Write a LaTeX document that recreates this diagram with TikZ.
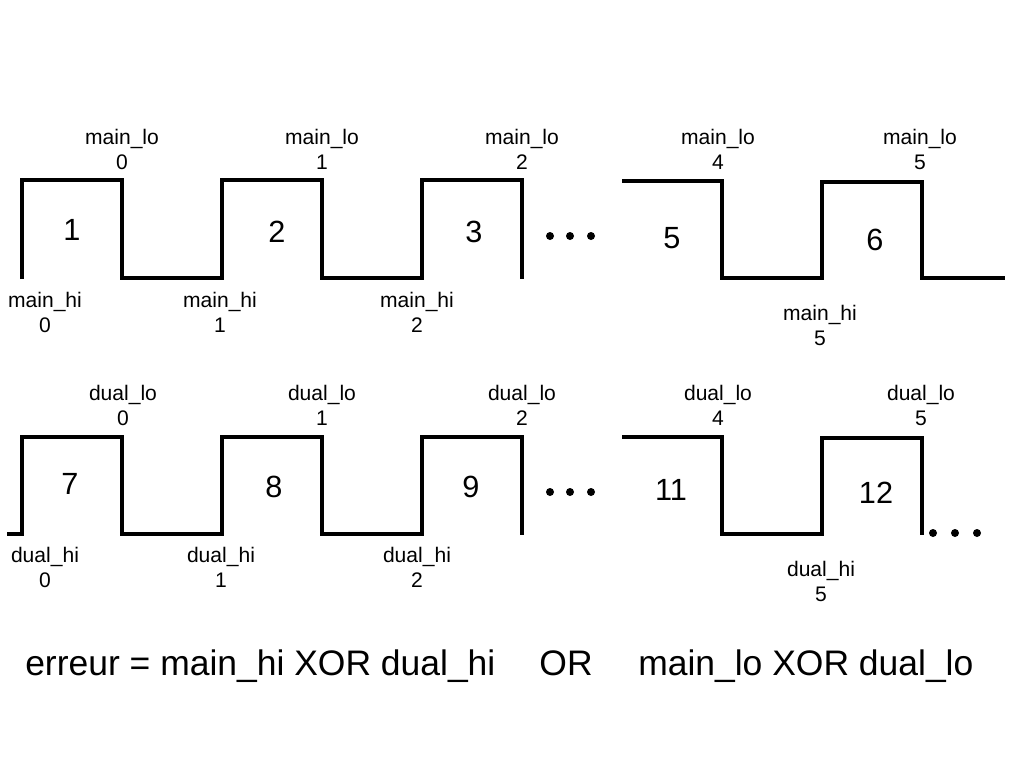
\documentclass[tikz,border=0pt]{standalone}
\usepackage{fontspec}
\setmainfont{Liberation Sans}
\usetikzlibrary{positioning}

\begin{document}
\begin{tikzpicture}[
    x=0.75pt, y=-0.75pt,
    wave/.style={line width=2.3pt, line join=miter},
    siglabel/.style={align=center, inner sep=0pt, font=\fontsize{15.8}{18.75}\selectfont},
    slotnum/.style={inner sep=0pt, font=\fontsize{23}{27}\selectfont},
    eqtext/.style={anchor=base west, inner sep=0pt, font=\fontsize{26.6}{30}\selectfont},
    dot/.style={fill=black}
]
\useasboundingbox (0,0) rectangle (1024,768);

% Main signal
\draw[wave] (22,279) -- (22,180) -- (122,180) -- (122,278) -- (222,278) -- (222,180)
    -- (322,180) -- (322,278) -- (422,278) -- (422,180) -- (522,180) -- (522,279);
\draw[wave] (622,181) -- (722,181) -- (722,278) -- (822,278) -- (822,182) -- (922,182)
    -- (922,278) -- (1005,278);

% Dual signal
\draw[wave] (7,534) -- (22,534) -- (22,437) -- (122,437) -- (122,534) -- (222,534) -- (222,437)
    -- (322,437) -- (322,534) -- (422,534) -- (422,437) -- (522,437) -- (522,535);
\draw[wave] (622,437) -- (722,437) -- (722,534) -- (822,534) -- (822,438) -- (922,438)
    -- (922,535);

% Ellipsis dots
\foreach \x in {550,570,591} {
    \fill[dot] (\x,236) circle (3pt);
    \fill[dot] (\x,492) circle (3pt);
}
\foreach \x in {933,955,977}
    \fill[dot] (\x,533) circle (3pt);

% Slot numbers, main
\node[slotnum] (n1) at (72,230) {1};
\node[slotnum] (n2) at (277,232) {2};
\node[slotnum] (n3) at (474,232) {3};
\node[slotnum] (n5) at (672,238) {5};
\node[slotnum] (n6) at (875,240) {6};

% Slot numbers, dual
\node[slotnum] (n7) at (70,484) {7};
\node[slotnum] (n8) at (274,487) {8};
\node[slotnum] (n9) at (471,487) {9};
\node[slotnum] (n11) at (671,490) {11};
\node[slotnum] (n12) at (876,493) {12};

% Main labels
\node[siglabel] (mlo0) at (122,149) {main\_lo\\0};
\node[siglabel] (mlo1) at (322,149) {main\_lo\\1};
\node[siglabel] (mlo2) at (522,149) {main\_lo\\2};
\node[siglabel] (mlo4) at (718,149) {main\_lo\\4};
\node[siglabel] (mlo5) at (920,149) {main\_lo\\5};
\node[siglabel] (mhi0) at (45,312) {main\_hi\\0};
\node[siglabel] (mhi1) at (220,312) {main\_hi\\1};
\node[siglabel] (mhi2) at (417,312) {main\_hi\\2};
\node[siglabel] (mhi5) at (820,325) {main\_hi\\5};

% Dual labels
\node[siglabel] (dlo0) at (123,405) {dual\_lo\\0};
\node[siglabel] (dlo1) at (322,405) {dual\_lo\\1};
\node[siglabel] (dlo2) at (522,405) {dual\_lo\\2};
\node[siglabel] (dlo4) at (718,405) {dual\_lo\\4};
\node[siglabel] (dlo5) at (921,405) {dual\_lo\\5};
\node[siglabel] (dhi0) at (45,567) {dual\_hi\\0};
\node[siglabel] (dhi1) at (221,567) {dual\_hi\\1};
\node[siglabel] (dhi2) at (417,567) {dual\_hi\\2};
\node[siglabel] (dhi5) at (821,581) {dual\_hi\\5};

% Error formula
\node[eqtext] (eq_hi) at (25,675) {erreur = main\_hi XOR dual\_hi};
\node[eqtext, anchor=base] (eq_or) at (566,675) {OR};
\node[eqtext] (eq_lo) at (638,675) {main\_lo XOR dual\_lo};

\end{tikzpicture}
\end{document}
